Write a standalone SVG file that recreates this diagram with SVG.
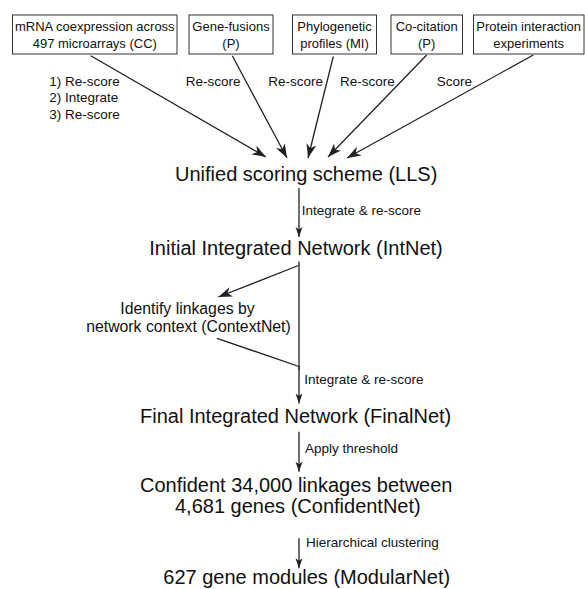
<svg xmlns="http://www.w3.org/2000/svg" width="585" height="589" viewBox="0 0 585 589">
<style>
  .box { fill: #fff; stroke: #333; stroke-width: 1; }
  .bt { font-family: "Liberation Sans", Arial, sans-serif; font-size: 13px; fill: #111; text-anchor: middle; }
  .lbl { font-family: "Liberation Sans", Arial, sans-serif; font-size: 13.5px; fill: #111; }
  .big { font-family: "Liberation Sans", Arial, sans-serif; font-size: 20px; fill: #111; }
  .mid { font-family: "Liberation Sans", Arial, sans-serif; font-size: 15.8px; fill: #111; text-anchor: middle; }
  .ln { fill: none; stroke: #222; stroke-width: 1.3; }
  .big-a { marker-end: url(#ah); }
  .small-a { marker-end: url(#as); }
</style>
<defs>
  <marker id="ah" markerUnits="userSpaceOnUse" markerWidth="15" markerHeight="11" refX="14" refY="5" orient="auto">
    <path d="M0,0 L14,5 L0,10 L4,5 Z" fill="#222"/>
  </marker>
  <marker id="as" markerUnits="userSpaceOnUse" markerWidth="11" markerHeight="8" refX="10" refY="3.5" orient="auto">
    <path d="M0,0 L10,3.5 L0,7 L2.5,3.5 Z" fill="#222"/>
  </marker>
</defs>
<rect width="585" height="589" fill="#fff"/>

<g id="node-cc">
  <rect class="box" x="12.5" y="15" width="164.5" height="39"/>
  <text class="bt" x="94.8" y="30.5">mRNA coexpression across</text>
  <text class="bt" x="94.8" y="47.5">497 microarrays (CC)</text>
</g>
<g id="node-genefusion">
  <rect class="box" x="189" y="15" width="84" height="39"/>
  <text class="bt" x="231" y="30.5">Gene-fusions</text>
  <text class="bt" x="231" y="47.5">(P)</text>
</g>
<g id="node-phylo">
  <rect class="box" x="292.5" y="15" width="84" height="39"/>
  <text class="bt" x="334.5" y="30.5">Phylogenetic</text>
  <text class="bt" x="334.5" y="47.5">profiles (MI)</text>
</g>
<g id="node-cocitation">
  <rect class="box" x="391" y="15" width="71.5" height="39"/>
  <text class="bt" x="426.7" y="30.5">Co-citation</text>
  <text class="bt" x="426.7" y="47.5">(P)</text>
</g>
<g id="node-protein">
  <rect class="box" x="473.5" y="15" width="110.5" height="39"/>
  <text class="bt" x="528.7" y="30.5">Protein interaction</text>
  <text class="bt" x="528.7" y="47.5">experiments</text>
</g>

<g id="node-lls">
  <text class="big" x="175" y="181">Unified scoring scheme (LLS)</text>
</g>
<g id="node-intnet">
  <text class="big" x="149.3" y="255">Initial Integrated Network (IntNet)</text>
</g>
<g id="node-contextnet">
  <text class="mid" x="187.5" y="313.5">Identify linkages by</text>
  <text class="mid" x="188.5" y="332">network context (ContextNet)</text>
</g>
<g id="node-finalnet">
  <text class="big" x="140" y="423.3">Final Integrated Network (FinalNet)</text>
</g>
<g id="node-confidentnet">
  <text class="big" x="140" y="491.7">Confident 34,000 linkages between</text>
  <text class="big" x="175" y="513.3">4,681 genes (ConfidentNet)</text>
</g>
<g id="node-modularnet">
  <text class="big" x="163.3" y="584">627 gene modules (ModularNet)</text>
</g>

<g id="connectors">
  <line class="ln big-a" x1="90.7" y1="55.7" x2="266" y2="157"/>
  <line class="ln big-a" x1="232.3" y1="55.7" x2="287" y2="158"/>
  <line class="ln big-a" x1="333.3" y1="56.5" x2="308" y2="158"/>
  <line class="ln big-a" x1="426.7" y1="55" x2="328" y2="157"/>
  <line class="ln big-a" x1="533.3" y1="55" x2="347" y2="158"/>

  <line class="ln small-a" x1="299" y1="188" x2="299" y2="237"/>
  <line class="ln" x1="299" y1="261.5" x2="299" y2="370"/>
  <line class="ln big-a" x1="298.5" y1="265.5" x2="218.3" y2="297"/>
  <line class="ln" x1="217" y1="338.3" x2="299" y2="366.5"/>
  <line class="ln small-a" x1="299" y1="366" x2="299" y2="403.5"/>
  <line class="ln small-a" x1="299" y1="431.7" x2="299" y2="471.7"/>
  <line class="ln small-a" x1="299" y1="538.3" x2="299" y2="568.3"/>

  <text class="lbl" x="49.3" y="85.5">1) Re-score</text>
  <text class="lbl" x="49.3" y="102">2) Integrate</text>
  <text class="lbl" x="49.3" y="118.5">3) Re-score</text>
  <text class="lbl" x="185.7" y="85.5">Re-score</text>
  <text class="lbl" x="268.3" y="85.5">Re-score</text>
  <text class="lbl" x="340" y="85.5">Re-score</text>
  <text class="lbl" x="436.7" y="85.5">Score</text>
  <text class="lbl" x="301.7" y="215">Integrate &amp; re-score</text>
  <text class="lbl" x="304.3" y="384">Integrate &amp; re-score</text>
  <text class="lbl" x="305" y="453.3">Apply threshold</text>
  <text class="lbl" x="306" y="546.7">Hierarchical clustering</text>
</g>
</svg>
